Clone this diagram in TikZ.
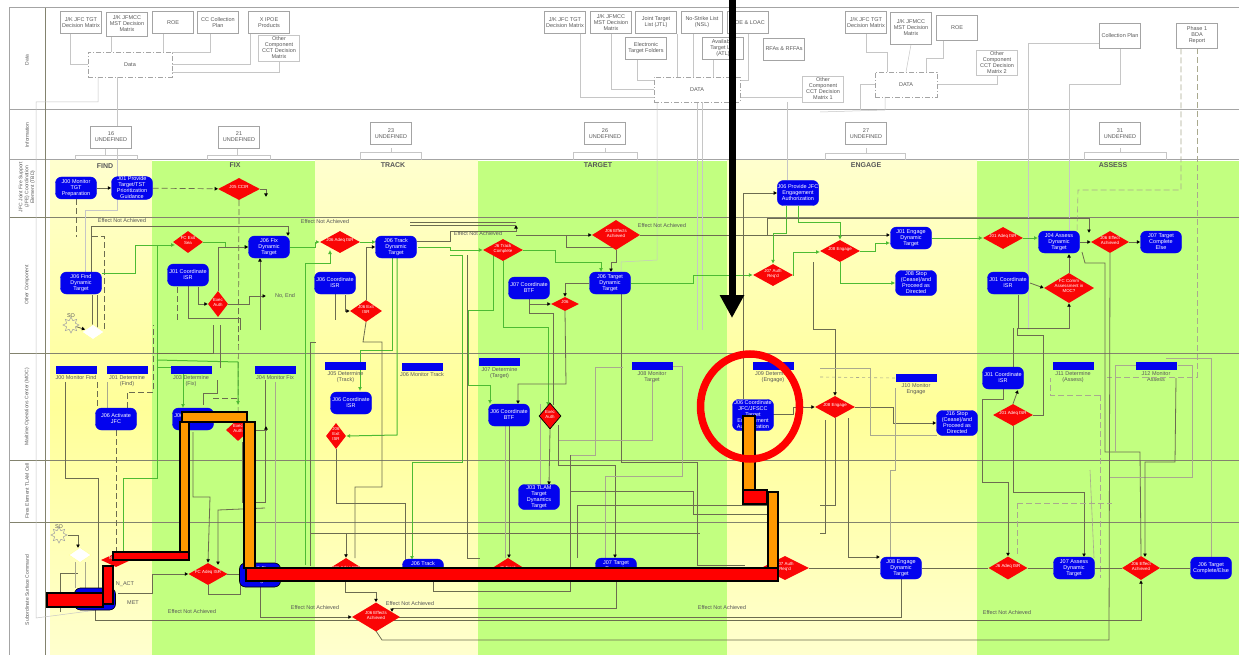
\documentclass[tikz,border=0pt]{standalone}
\usepackage{fontspec}
\usepackage{xcolor}
\usetikzlibrary{arrows.meta,shapes.geometric,backgrounds}
\setmainfont{Liberation Sans}
\definecolor{BandYellow}{HTML}{FFFF99}
\definecolor{BandPale}{HTML}{FFFFCE}
\definecolor{BandGreen}{HTML}{C2FF80}
\definecolor{Lane}{HTML}{83836E}
\definecolor{LaneTop}{HTML}{A4A4A4}
\definecolor{Wire}{HTML}{6C6C50}
\definecolor{WireSoft}{HTML}{A9A98E}
\definecolor{Pale}{HTML}{C6C6C6}
\definecolor{Flow}{HTML}{4DBB33}
\definecolor{Task}{HTML}{0303EE}
\definecolor{Alarm}{HTML}{FA0505}
\definecolor{Ink}{HTML}{585858}
\definecolor{Route}{HTML}{FF9900}
\newcommand{\tinyfont}{\fontsize{5.5}{6}\selectfont}
\newcommand{\dlabel}[1]{\smash{\makebox[0pt]{\begin{tabular}{@{}c@{}}#1\end{tabular}}}}
\begin{document}
\begin{tikzpicture}[x=1pt,y=-1pt,font=\tinyfont,
docbox/.style={draw=LaneTop,line width=.9pt,fill=white,minimum width=41pt,minimum height=22pt,inner sep=.5pt,align=center,text=Ink},
databox/.style={draw=LaneTop,dash pattern=on 5pt off 2pt on 1pt off 2pt,line width=.7pt,minimum height=25pt,inner sep=1pt,text=Ink},
task/.style={rectangle,rounded corners=6pt,fill=Task,draw=Task,text=white,minimum width=41pt,minimum height=22pt,inner sep=.3pt,align=center},
decision/.style 2 args={diamond,fill=Alarm,text=white,inner sep=0pt,minimum width=#1,minimum height=#2,font=\fontsize{4.4}{4.9}\selectfont},
barbox/.style={rectangle,fill=Task,minimum width=41pt,minimum height=8pt,inner sep=0pt},
barlabel/.style={text=Ink,align=center,inner sep=0pt},
phase/.style={font=\fontsize{7}{8}\selectfont\bfseries,text=Ink},
lanelabel/.style={rotate=90,text=Ink,align=center,font=\fontsize{5}{5.8}\selectfont},
tag/.style={text=Ink,inner sep=0pt},
tip/.style={-{Latex[color=black,length=3.5pt,width=4pt]}},
wire/.style={draw=Wire,line width=.8pt},
softwire/.style={draw=WireSoft,line width=.6pt},
flowwire/.style={draw=Flow,line width=1pt,-{Latex[length=4pt,width=4pt]}},
palewire/.style={draw=Pale,line width=.5pt},
dashwire/.style={draw=Wire,line width=.7pt,dash pattern=on 6pt off 3pt},
dashpale/.style={draw=WireSoft,line width=.6pt,dash pattern=on 6pt off 3pt},
redbar/.style={fill=red,draw=black,line width=1.2pt},
orangebar/.style={fill=Route,draw=black,line width=1.2pt}]
\useasboundingbox (0,0) rectangle (1239,655);
\begin{scope}[on background layer]
\fill[white] (0,0) rectangle (1239,655);
\shade[top color=BandPale,bottom color=BandPale,middle color=BandYellow] (50,161) rectangle (152,655);
\shade[top color=BandPale,bottom color=BandPale,middle color=BandYellow] (315,161) rectangle (478,655);
\shade[top color=BandPale,bottom color=BandPale,middle color=BandYellow] (727,161) rectangle (977,655);
\fill[BandGreen] (152,161) rectangle (315,655);\fill[BandGreen] (478,161) rectangle (727,655);\fill[BandGreen] (977,161) rectangle (1239,655);
\foreach \y in {8,110,160}{\draw[LaneTop,line width=1pt] (9,\y)--(1239,\y);}
\foreach \y in {217,353,460,522}{\draw[Lane,line width=.9pt] (9,\y)--(1239,\y);}
\draw[LaneTop,line width=1pt] (9,8)--(9,655);\draw[Lane,line width=1pt] (45,8)--(45,655);
\end{scope}
\node[lanelabel] (laneData) at (27,60) {Data};\node[lanelabel] (laneInfo) at (27,135) {Information};
\node[lanelabel] (laneJfc) at (27,187) {JFC Joint Fire Support\\(JFE) Coordination\\Element (TBD)};
\node[lanelabel] (laneOther) at (27,285) {Other Component};\node[lanelabel] (laneMoc) at (27,407) {Maritime Operations Center (MOC)};
\node[lanelabel] (laneFires) at (27,491) {Fires Element TLAM Cell};\node[lanelabel] (laneSub) at (27,590) {Subordinate Surface Command};
\node[phase] (phFind) at (105,166) {FIND};\node[phase] (phFix) at (235,165) {FIX};\node[phase] (phTrack) at (393,165) {TRACK};\node[phase] (phTarget) at (598,165) {TARGET};\node[phase] (phEngage) at (866,165) {ENGAGE};\node[phase] (phAssess) at (1113,165) {ASSESS};
\node[docbox] (jfcA) at (81,22.5) {J/K JFC TGT\\Decision Matrix};\node[docbox,minimum height=24pt] (mccA) at (127,24) {J/K JFMCC\\MST Decision\\Matrix};\node[docbox] (roeA) at (173,22.5) {ROE};\node[docbox] (colA) at (218,22.5) {CC Collection\\Plan};\node[docbox] (ipoeA) at (269,22.5) {X IPOE\\Products};\node[docbox,minimum height=26pt,draw=Pale] (othA) at (279,48) {Other\\Component\\CCT Decision\\Matrix};
\node[databox,minimum width=84pt] (dataA) at (130,64.5) {Data};
\node[docbox] (jfcB) at (565,22.5) {J/K JFC TGT\\Decision Matrix};\node[docbox] (mccB) at (611,22.5) {J/K JFMCC\\MST Decision\\Matrix};\node[docbox] (jtlB) at (656,22.5) {Joint Target\\List (JTL)};\node[docbox] (olB) at (702,22.5) {No-Strike List\\(NSL)};\node[docbox] (loacB) at (748,22.5) {ROE \& LOAC};
\node[docbox] (elecB) at (646,48) {Electronic\\Target Folders};\node[docbox] (avlB) at (723,48) {Available\\Target List\\(ATL)};\node[docbox] (rfaB) at (784,49) {RFAs \& RFFAs};\node[docbox,minimum height=26pt,draw=Pale] (othB) at (823,89) {Other\\Component\\CCT Decision\\Matrix 1};
\node[databox,minimum width=86pt] (dataB) at (697,89.5) {DATA};
\node[docbox] (jfcC) at (866,22.5) {J/K JFC TGT\\Decision Matrix};\node[docbox,minimum height=32pt] (mccC) at (911,28) {J/K JFMCC\\MST Decision\\Matrix};\node[docbox,minimum height=25pt] (roeC) at (957,27.5) {ROE};\node[docbox,minimum height=25pt,draw=Pale] (othC) at (997,62.5) {Other\\Component\\CCT Decision\\Matrix 2};\node[docbox,minimum height=25pt] (colC) at (1120,35.5) {Collection Plan};\node[docbox,minimum height=25pt] (bdaC) at (1197,35.5) {Phase 1\\BDA\\Report};
\node[databox,minimum width=62pt] (dataC) at (906,84.5) {DATA};
\node[docbox] (infoFind) at (111,137) {16\\UNDEFINED};\node[docbox] (infoFix) at (239,137) {21\\UNDEFINED};\node[docbox] (infoTrack) at (391,133.5) {23\\UNDEFINED};\node[docbox] (infoTarget) at (605,133.5) {26\\UNDEFINED};\node[docbox] (infoEngage) at (866,133.5) {27\\UNDEFINED};\node[docbox] (infoAssess) at (1120,133.5) {31\\UNDEFINED};
\node[task] (jPrep) at (76,188) {J00 Monitor\\TGT\\Preparation};\node[task] (jGuide) at (132,188) {J01 Provide\\Target/TST\\Prioritization\\Guidance};\node[decision={42pt}{22pt}] (qCcir) at (239,189) {\dlabel{J05 CCIR}};
\node[task] (jFind) at (81,283) {J06 Find\\Dynamic\\Target};\node[task] (jIsrFix) at (188,275) {J01 Coordinate\\ISR};\node[task] (jFix) at (269,247) {J06 Fix\\Dynamic\\Target};\node[task] (jIsrTrack) at (335,283) {J06 Coordinate\\ISR};\node[task] (jTrack) at (396,247) {J06 Track\\Dynamic\\Target};
\node[decision={30pt}{22pt}] (qExit) at (188,242) {\dlabel{FC Exit\\Sea}};\node[decision={20pt}{26pt}] (qAuth) at (218,304) {\dlabel{Exec\\Auth}};\node[decision={40pt}{22pt}] (qAdeqFix) at (340,242) {\dlabel{J06 Adeq ISR}};\node[decision={32pt}{22pt}] (qExitIsr) at (366,311) {\dlabel{J06 Exit\\ISR}};
\node[decision={40pt}{22pt}] (qTrack) at (503,250) {\dlabel{J6 Track\\Complete}};\node[decision={48pt}{30pt}] (qEffect) at (616,235) {\dlabel{J06 Effects\\Achieved}};\node[task] (jIsrTarget) at (529,288) {J07 Coordinate\\BTF};\node[task] (jTarget) at (610,283) {J06 Target\\Dynamic\\Target};\node[decision={28pt}{14pt}] (qSmall) at (565,304) {\dlabel{J06}};
\node[task,minimum height=25pt] (jAuthority) at (798,193) {J06 Provide JFC\\Engagement\\Authorization};\node[decision={40pt}{22pt}] (qReady) at (773,275) {\dlabel{J07 Auth\\Req'd}};\node[decision={40pt}{22pt}] (qEngage) at (840,251) {\dlabel{J08 Engage}};\node[task] (jEngage) at (911,238) {J01 Engage\\Dynamic\\Target};\node[task,minimum height=25pt] (jStop) at (916,283) {J08 Stop\\(Cease)/and\\Proceed as\\Directed};
\node[decision={40pt}{22pt}] (qAdeqAss) at (1003,238) {\dlabel{J01 Adeq ISR}};\node[task] (jAssess) at (1059,242) {J04 Assess\\Dynamic\\Target};\node[decision={38pt}{22pt}] (qDone) at (1110,242) {\dlabel{J06 Effect\\Achieved}};\node[task] (jComplete) at (1161,242) {J07 Target\\Complete\\Else};\node[task] (jIsrAssess) at (1008,283) {J01 Coordinate\\ISR};\node[decision={50pt}{30pt}] (qComm) at (1069,288) {\dlabel{FC Comm\\Assessment in\\MOC?}};
\foreach \nm/\x/\y/\txt in {mFind/76/370/J00 Monitor Find,dFind/127/370/J01 Determine\\(Find),dFix/191/370/J03 Determine\\(Fix),mFix/275/370/J04 Monitor Fix,dTrack/345.5/366/J05 Determine\\(Track),mTrack/422/367/J06 Monitor Track,dTarget/499.5/362/J07 Determine\\(Target),mTarget/652/366/J08 Monitor\\Target,dEngage/773/366/J09 Determine\\(Engage),mEngage/916/378/J10 Monitor\\Engage,dAssess/1073/366/J11 Determine\\(Assess),mAssess/1156/366/J12 Monitor\\Assess}{\node[barbox] (\nm) at (\x,\y) {};\node[barlabel,anchor=north] (\nm Text) at (\x,\y+5) {\txt};}
\node[task] (jActivate) at (116,419) {J06 Activate\\JFC};\node[task] (jFixMoc) at (193,419) {J06 Coordinate\\ISR};\node[task] (jIsrMoc) at (351,403) {J06 Coordinate\\ISR};\node[task] (jBtf) at (509,415) {J06 Coordinate\\BTF};\node[task,minimum height=31pt] (jWeapon) at (753,415) {J06 Coordinate\\JFC/JFSCC\\Target\\Engagement\\Authorization};\node[task,minimum height=25pt] (jStopMoc) at (957,423) {J16 Stop\\(Cease)/and\\Proceed as\\Directed};\node[task] (jIsrMocB) at (1003,378) {J01 Coordinate\\ISR};
\node[decision={24pt}{22pt}] (qFixMoc) at (238,430) {\dlabel{Exec\\Auth}};\node[decision={20pt}{26pt}] (qTrackMoc) at (336,436) {\dlabel{J06\\Exit\\ISR}};\node[decision={22pt}{26pt},draw=black,line width=.7pt] (qBtfMoc) at (550,416) {\dlabel{Exec\\Auth}};\node[decision={40pt}{22pt}] (qEngMoc) at (835,407) {\dlabel{J08 Engage}};\node[decision={40pt}{22pt}] (qAdeqMoc) at (1013,415) {\dlabel{J01 Adeq ISR}};
\node[task,minimum height=25pt] (jTlam) at (539,497) {J03 TLAM\\Target\\Dynamics\\Target};
\node[task,draw=black,line width=.6pt] (jFindSub) at (95,599) {J06 Find};\node[decision={30pt}{14pt}] (qFindSub) at (116,560) {\dlabel{N\_ACT}};\node[decision={39pt}{22pt}] (qFixSub) at (208,574) {\dlabel{FC Adeq ISR}};\node[task,draw=black,line width=.6pt,minimum height=24pt] (jFixSub) at (260,575) {J06 Fix\\Dynamic\\Target};\node[decision={38pt}{24pt}] (qTrackSub) at (346,570) {\dlabel{J06 Adeq ISR}};\node[task] (jTrackSub) at (423,570) {J06 Track\\Dynamic\\Target};\node[decision={38pt}{24pt}] (qTargetSub) at (508,570) {\dlabel{J6 Track}};\node[task] (jTargetSub) at (616,569) {J07 Target\\Dynamic\\Target};\node[decision={48pt}{24pt}] (qEngSub) at (785,568) {\dlabel{J07 Auth\\Req'd}};\node[task] (jEngSub) at (901,568) {J08 Engage\\Dynamic\\Target};\node[decision={39pt}{23pt}] (qAdeqSub) at (1008,568) {\dlabel{J6 Adeq ISR}};\node[task] (jAssSub) at (1074,568) {J07 Assess\\Dynamic\\Target};\node[decision={38pt}{24pt}] (qDoneSub) at (1141,568) {\dlabel{J06 Effect\\Achieved}};\node[task] (jDoneSub) at (1211,568) {J06 Target\\Complete/Else};\node[decision={48pt}{29pt}] (qBig) at (376,617) {\dlabel{J06 Effects\\Achieved}};
\node[star,star points=8,star point ratio=1.7,draw=LaneTop,line width=.5pt,minimum size=16pt,inner sep=0pt] (sunA) at (71,325) {};\node[star,star points=8,star point ratio=1.7,draw=LaneTop,line width=.5pt,minimum size=16pt,inner sep=0pt] (sunB) at (59,535) {};
\node[diamond,aspect=1.5,draw=BandYellow,fill=white,minimum width=22pt,minimum height=15pt,inner sep=0pt] (gateA) at (93,332) {};\node[diamond,aspect=1.5,draw=BandYellow,fill=white,minimum width=22pt,minimum height=15pt,inner sep=0pt] (gateB) at (80,555) {};
\node[tag] (sunAText) at (71,316) {SO};\node[tag] (sunBText) at (59,527) {SO};\node[tag] (noEnd) at (285,296) {No, End};\node[tag] (acText) at (125,584) {N\_ACT};\node[tag] (metText) at (133,603) {MET};
\node[tag] (enaA) at (122,221) {Effect Not Achieved};\node[tag] (enaB) at (325,222) {Effect Not Achieved};\node[tag] (enaC) at (478,234) {Effect Not Achieved};\node[tag] (enaD) at (662,226) {Effect Not Achieved};\node[tag] (enaE) at (192,612) {Effect Not Achieved};\node[tag] (enaF) at (315,608) {Effect Not Achieved};\node[tag] (enaG) at (410,604) {Effect Not Achieved};\node[tag] (enaH) at (722,608) {Effect Not Achieved};\node[tag] (enaI) at (1007,613) {Effect Not Achieved};
\coordinate (endCcir) at (266,197);\coordinate (endAuth) at (266,296);\coordinate (endMoc) at (266,426);
\begin{scope}[on background layer]
\draw[palewire] (jfcA.south) ++(-11,0) |- (dataA.west);\draw[palewire] (mccA.south) ++(-16,0) -- (111,52);\draw[palewire] (roeA.south) ++(-10,0) -- (163,52);\draw[palewire] (colA.south) ++(-8,0) |- (172,52);\draw[palewire] (ipoeA.south) ++(-19,0) |- (dataA.east);\draw[palewire] (othA.south) |- (172,72);
\draw[palewire] (98,77) -- (98,102) -- (36,102) -- (36,618) -- (jFindSub.south);\draw[palewire] (117,77) -- (117,210) -- (85,210) -- (85,272);
\draw[palewire] (jfcB.south) ++(15,0) |- (654,97);\draw[palewire] (mccB.south) |- (dataB.west);\draw[palewire] (elecB.south) ++(-9,0) |- (654,80);\draw[palewire] (jtlB.south) ++(21,0) -- (677,77);\draw[palewire] (olB.south) ++(-9,0) -- (693,77);\draw[palewire] (avlB.south) ++(-10,0) -- (713,77);\draw[palewire] (loacB.south) |- (740,80);\draw[palewire] (othB.west) ++(0,8) -- (740,97);
\draw[palewire] (657,102) -- (657,260) -- (621,262) -- (621,272);\draw[palewire] (697,102) -- (697,330);\draw[palewire] (702,102) -- (702,330);\draw[palewire] (787,102) -- (787,180);
\draw[palewire] (jfcC.south) |- (887,52) -- (887,72);\draw[palewire] (mccC.south) -- (906,72);\draw[palewire] (roeC.south) ++(-14,0) |- (926,58) -- (926,72);\draw[palewire] (othC.south) |- (dataC.east);\draw[palewire] (dataC.west) -| (860,110);\draw[palewire] (885,97) -- (885,110) -- (820,112);
\draw[palewire] (colC.west) ++(0,8) -| (1028,330);\draw[palewire] (colC.south) |- (1069,84) -- (1069,232);\draw[dashpale] (bdaC.south) ++(-16,0) |- (1078,190) -- (1077,232);\draw[dashpale] (bdaC.south) |- (1107,377);
\foreach \a/\b/\c/\d in {75/137/155/105,207/270/155/237,360/421/152/391,573/637/152/605,825/905/153/866,1084/1166/152/1120}{\draw[palewire] (\a,160) |- (\b,\c) -- (\b,160);\draw[palewire] (\d,148) -- (\d,\c);}
\draw[wire,tip] (jPrep) -- (jGuide);\draw[dashwire,tip] (jGuide) -- (qCcir);\draw[wire,tip] (qCcir.east) -| (endCcir);\draw[dashwire] (qCcir.south) -- (238,440);\draw[dashwire] (jPrep.south) -- (76,237);\draw[dashwire] (92,236) -| (104,330);
\draw[wire,tip] (jFind.north east) ++(-10,0) |- (288,226) -- (288,236);\draw[wire] (92,295) -- (92,330);\draw[wire] (97,295) -- (97,330);\draw[wire,tip] (sunA) -- (gateA);
\draw[flowwire] (jFind.east) ++(0,-10) -| (135,245) -- (175,245);\draw[flowwire] (qExit.east) -- (225,242) |- (jFix.west);\draw[flowwire] (jFix.east) -- (315,247) |- (qAdeqFix.west);\draw[flowwire] (qAdeqFix.east) -- (376,242);\draw[flowwire] (305,565) |- (330,263) -- (330,250);
\draw[wire,tip] (qAuth.north) |- (jFix.west);\draw[dashwire] (177,287) -- (177,320);\draw[wire] (jIsrFix.south) |- (240,318) -- (240,330);\draw[wire,tip] (198,287) |- (qAuth.west);\draw[wire,tip] (qAuth.east) -| (249,296) -- (endAuth);\draw[wire,tip] (260,330) -- (260,258);
\draw[flowwire,-] (392,258) -- (392,350) -- (360,350);\draw[flowwire] (360,350) -- (360,391);\draw[flowwire] (397,258) -- (397,435) -- (qTrackMoc.east);\draw[wire,tip] (qExitIsr.north) |- (jTrack.west);\draw[wire] (jIsrTrack.south) -- (335,320);\draw[wire,tip] (345,295) |- (qExitIsr.west);
\draw[wire] (qExitIsr.south) -- (363,342) -- (382,342) -- (382,487) -- (355,487) -- (355,558);\draw[wire] (310,342) -- (316,342);\draw[wire] (310,342) -- (310,566);
\draw[wire,tip] (417,241) -- (450,241) -- (450,231) -- (516,231) -- (516,225);\draw[wire] (410,225) -- (516,225);\draw[wire] (410,222) -- (516,222);\draw[wire,tip] (516,235) -- (qEffect.west);\draw[wire] (566,235) |- (616,247);\draw[wire,tip] (qEffect.south) -- (616,262) -- (611,262) -- (611,272);\draw[wire,tip] (qEffect.east) -- (890,235);
\draw[flowwire,-] (418,247) -- (450,247) -- (450,250);\draw[flowwire] (450,250) -- (qTrack.west);\draw[flowwire] (qTrack.east) -| (555,262) -| (601,272);\draw[flowwire] (qTrack.south) -- (503,327) -- (548,327) -- (548,406);\draw[flowwire] (450,255) -- (462,255) -- (462,462) -- (412,462) -- (412,560);\draw[wire] (467,255) -- (467,558) -- (480,558);\draw[flowwire] (493,255) -- (493,310) -- (468,310) -- (468,385) -- (490,385) -- (490,404);
\draw[wire] (jIsrTarget.south) -- (529,313) -- (553,313) -- (553,405);\draw[wire,tip] (jTarget.west) -| (qSmall.north);\draw[wire,tip] (529,304) -- (qSmall.west);\draw[wire,tip] (qSmall.south) -- (566,384) -- (518,384) -- (518,404);\draw[wire] (621,294) -- (621,462) -- (697,462) -- (697,565) -- (745,565);\draw[flowwire] (jTarget.east) -| (693,275) -- (qReady.west);
\draw[softwire] (559,440) -- (652,440) -- (652,380);\draw[softwire] (623,367) -- (595,367) -- (595,455) -- (570,455);\draw[wire,tip] (558,425) -- (558,465) -- (615,465) -- (615,558);\draw[softwire] (673,366) -- (682,366) -- (682,476) -- (605,476) -- (605,558);\draw[wire] (570,491) -- (693,491) -- (693,514) -- (768,514);\draw[wire] (577,558) -- (577,505) -- (768,505);\draw[wire] (310,533) -- (700,533);\draw[wire] (570,455) -- (570,591) -- (433,591) -- (433,582);
\draw[wire,tip] (qBtfMoc.south) -- (549,485);\draw[softwire] (540,404) -- (540,485);\draw[wire,tip] (jBtf.south) -- (509,558);\draw[softwire] (505,426) -- (505,558);
\draw[wire,tip] (jTargetSub.south) |- (392,608) -- (392,612);\draw[wire] (qBig.south) -- (376,631) -- (382,640) -- (1109,640) -- (qDone.south);\draw[wire] (jEngSub.south) |- (398,617);\draw[wire,tip] (jFindSub.south) -- (95,620) -- (1141,620) -- (qDoneSub.south);
\draw[flowwire] (786,206) -- (786,233) -- (773,233) -- (qReady.north);\draw[flowwire,-] (798,206) -- (798,222) -- (840,222);\draw[flowwire] (840,222) -- (qEngage.north);\draw[flowwire] (qReady.east) -| (793,252) -- (820,252);\draw[flowwire] (qEngage.east) -| (875,243) -- (890,243);\draw[flowwire] (qEngage.south) |- (jStop.west);\draw[flowwire] (jEngage.east) -- (qAdeqAss.west);\draw[flowwire] (qAdeqAss.east) -- (1038,238);\draw[wire,tip] (743,399) |- (jAuthority.west);\draw[wire] (767,218) -- (767,235);\draw[wire,tip] (767,218) -- (1089,218) -- (1089,233);\draw[wire,tip] (jAssess) -- (qDone);\draw[wire,tip] (qDone) -- (jComplete);
\draw[wire,tip] (1018,295) -- (1018,328) -- (1069,328) -- (qComm.south);\draw[wire,tip] (qComm.north) -- (1069,254);\draw[wire,tip] (1030,283) -- (qComm.west);\draw[wire] (1082,252) -- (1085,263) -- (1105,263) -- (1105,452) -- (1140,452) -- (qDoneSub.north);
\draw[wire,tip] (813,262) -- (813,329) -- (835,329) -- (qEngMoc.north);\draw[wire,tip] (773,414) -- (793,414) -- (793,407) -- (qEngMoc.west);\draw[wire,tip] (qEngMoc.east) -| (893,423) -- (jStopMoc.west);\draw[wire] (qEngMoc.south) -- (835,505) -- (820,505);\draw[wire] (825,420) -- (825,533) -- (820,533);\draw[wire,tip] (848,418) -- (848,557) -- (880,557);\draw[softwire] (820,368) -- (870,368) -- (870,435) -- (937,435);\draw[softwire,dashed] (820,377) -- (mEngage.west);\draw[softwire] (895,388) -- (895,470) -- (890,470) -- (890,557);
\draw[wire,tip] (jIsrMocB.south) -- (1003,399) -- (982,399) -- (982,482) -- (1008,482) -- (qAdeqSub.north);\draw[wire] (qAdeqMoc.east) -- (1043,415) -- (1043,335) -- (1017,335) -- (1017,328);\draw[wire,tip] (qAdeqMoc.south) |- (1084,492) -- (1084,557);\draw[wire] (jIsrMocB.north) ++(10,0) -- (1013,328);\draw[wire,tip] (qAdeqMoc.north) -- (1018,390);
\draw[softwire] (1166,358) -- (1211,358) -- (jDoneSub.north);\draw[softwire] (1178,365) -- (1192,365) -- (1192,477) -- (1110,477);\draw[softwire] (1136,365) -- (1115,365) -- (1115,452);\draw[wire,tip] (1176,378) -- (1175,462) -- (1145,462) -- (1145,557);\draw[dashpale] (1100,395) -- (1100,578);\draw[dashpale] (1100,395) -- (1050,395) -- (1050,378);\draw[dashpale] (1017,503) -- (1112,503);\draw[dashpale] (1017,503) -- (1017,556);\draw[softwire] (1090,470) -- (1094,558);
\draw[wire] (65,382) |- (98,478) -- (98,600);\draw[dashwire] (97,382) -- (97,408);\draw[softwire] (107,382) -- (107,408);\draw[dashwire] (127,408) -- (127,392) -- (153,392) -- (153,325);\draw[dashwire] (jActivate.south) -- (116,552);
\draw[flowwire,-] (123,555) -- (123,478) -- (157,478) -- (157,245);\draw[flowwire] (157,360) -- (238,362) -- (238,405);\draw[flowwire] (157,367) -- (183,367) -- (183,408);\draw[wire] (213,325) -- (213,353) -- (157,353);\draw[wire] (220,325) -- (220,368);\draw[wire] (203,405) -- (203,393) -- (217,393) -- (217,380);\draw[dashwire] (213,398) -- (237,398);
\draw[wire,tip] (193,432) |- (210,497) -- (qFixSub.north);\draw[wire] (242,442) -- (242,502) -- (265,502) -- (265,380);\draw[wire,tip] (265,508) -- (218,510) -- (218,565);\draw[softwire] (275,382) -- (275,563);\draw[wire,tip] (qFixMoc.east) -| (endMoc);
\draw[wire] (qTrackMoc.south) |- (405,503) -- (405,560);\draw[wire,tip] (346,533) -- (qTrackSub.north);\draw[wire,tip] (345,580) -- (345,592) -- (376,592) -- (qBig.north);\draw[wire,tip] (jFixSub.south) |- (qBig.west);\draw[wire,tip] (118,593) -- (152,593) -- (152,574) -- (qFixSub.west);\draw[wire] (qFixSub.south) -- (208,594) -- (240,594) -- (240,584);
\draw[wire] (60,612) -- (60,573) -- (78,573);\draw[wire,tip] (sunB) -| (78,548);\draw[softwire] (75,562) -- (75,588);\draw[softwire] (85,562) -- (85,588);
\draw[wire] (qEngSub) -- (jEngSub);\draw[wire] (jEngSub) -- (qAdeqSub);\draw[wire] (qAdeqSub) -- (jAssSub);\draw[wire] (jAssSub) -- (qDoneSub);\draw[wire] (qDoneSub) -- (jDoneSub);\draw[wire] (qTrackSub) -- (jTrackSub) -- (qTargetSub) -- (jTargetSub);\draw[wire] (qFixSub) -- (jFixSub) -- (qTrackSub);
\end{scope}
\draw[orangebar] (180,422) rectangle (189,552);\draw[redbar] (47,593) rectangle (103,607);\draw[redbar] (103,566) rectangle (113,604);\draw[redbar] (113,552) rectangle (189,560);\draw[orangebar] (182,412) rectangle (247,422);\draw[orangebar] (244,422) rectangle (255,568);\draw[redbar] (743,490) rectangle (767,504);\draw[orangebar] (743,416) rectangle (755,490);\draw[orangebar] (768,492) rectangle (778,568);\draw[redbar] (246,568) rectangle (778,581);
\coordinate (pointerTop) at (732,-4);\coordinate (pointerEnd) at (732,318);
\draw[line width=7pt,-{Triangle[length=23pt,width=23pt]}] (pointerTop) -- (pointerEnd);
\node[ellipse,draw=red,line width=7.5pt,minimum width=99pt,minimum height=105pt,inner sep=0pt] (focus) at (750,406.5) {};
\end{tikzpicture}
\end{document}
